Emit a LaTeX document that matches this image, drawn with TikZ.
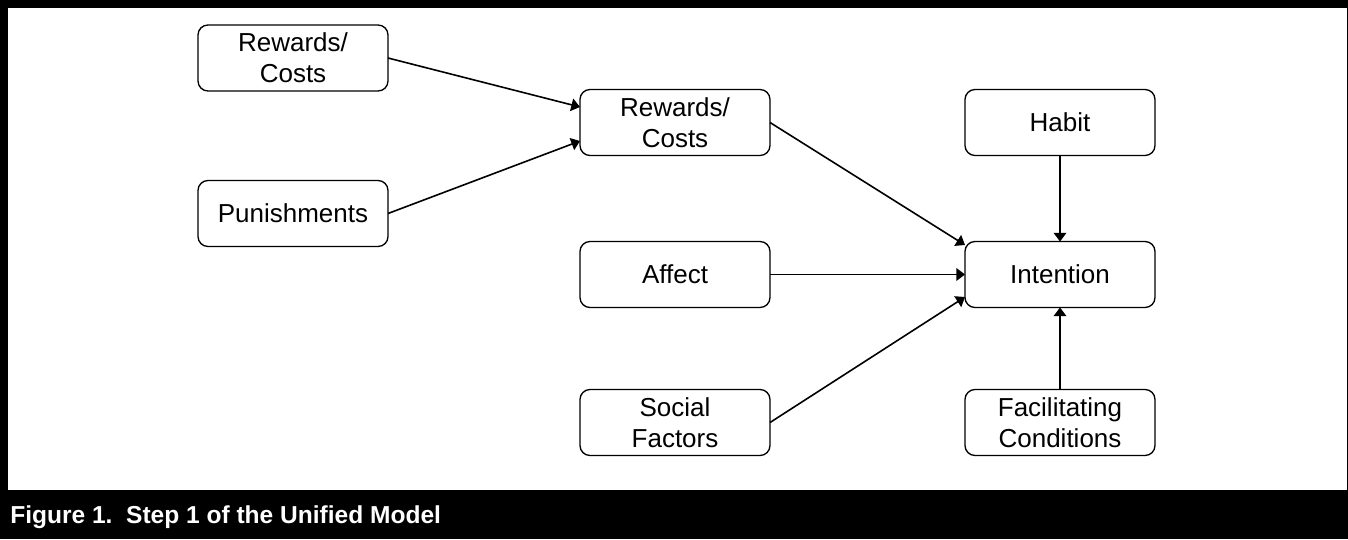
\documentclass[tikz,border=0pt]{standalone}
\usepackage{fontspec}
\setmainfont{Liberation Sans}
\usetikzlibrary{arrows.meta,calc}
\begin{document}
\begin{tikzpicture}[x=0.75pt,y=-0.75pt,
  box/.style={draw=black, line width=1pt, rounded corners=7.5pt, fill=white,
    minimum width=142.5pt, minimum height=49.5pt, inner sep=0pt, outer sep=0pt,
    align=center, font=\fontsize{19.5}{23}\selectfont},
  link/.style={line width=1.2pt, -{Triangle[length=6.5pt,width=9.5pt]}}]
\useasboundingbox (0,0) rectangle (1348,539);
\fill[black] (0,0) rectangle (1348,539);
\fill[white] (8,8) rectangle (1347,490);
\node[box] (rc1) at (293,58) {Rewards/\\Costs};
\node[box] (pun) at (293,213.5) {Punishments};
\node[box] (rc2) at (675,122.5) {Rewards/\\Costs};
\node[box] (aff) at (675,274.5) {Affect};
\node[box] (soc) at (675,422.5) {Social\\Factors};
\node[box] (hab) at (1060,122.5) {Habit};
\node[box] (int) at (1060,274.5) {Intention};
\node[box] (fac) at (1060,422.5) {Facilitating\\Conditions};
\draw[link] (rc1.east) -- ($(rc2.west)+(0,-15.5)$);
\draw[link] (pun.east) -- ($(rc2.west)+(0,18.5)$);
\draw[link] (rc2.east) -- ($(int.west)+(0,-29.5)$);
\draw[link] (aff.east) -- (int.west);
\draw[link] (soc.east) -- ($(int.west)+(0,22.5)$);
\draw[link] (hab.south) -- (int.north);
\draw[link] (fac.north) -- (int.south);
\node[anchor=base west, inner sep=0pt, text=white,
  font=\bfseries\fontsize{18.4}{22}\selectfont] (cap) at (10,523)
  {\frenchspacing Figure 1.\ \ Step 1 of the Unified Model};
\end{tikzpicture}
\end{document}
